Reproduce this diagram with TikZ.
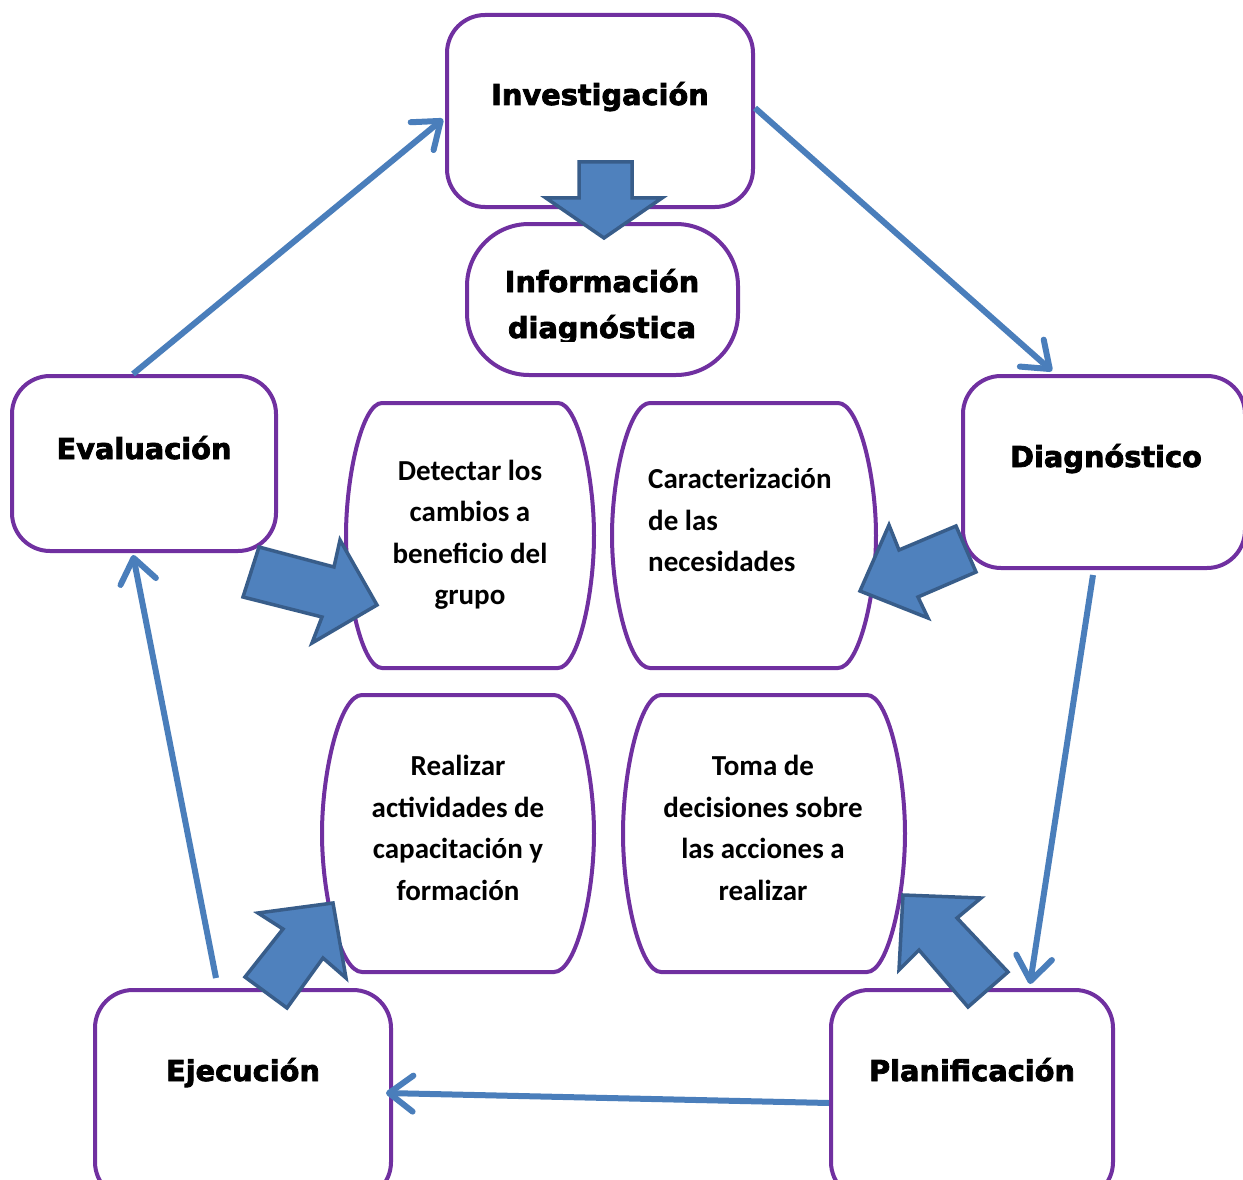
\documentclass[tikz,border=0pt]{standalone}
\usepackage{fontspec}
\setmainfont{DejaVu Sans}[BoldFeatures={FakeBold=2.6}]
\newfontfamily\calfont{Carlito}
\usetikzlibrary{arrows.meta,calc}
\definecolor{pur}{HTML}{7030A0}
\definecolor{bfill}{HTML}{4F81BD}
\definecolor{bline}{HTML}{385D8A}
\definecolor{connc}{HTML}{4A7EBB}
\tikzset{
 mainbox/.style={draw=pur, line width=4pt, rounded corners=38pt, fill=white, inner sep=0pt},
 ibox/.style={draw=pur, line width=4pt, fill=white},
 lbl/.style={font=\bfseries\fontsize{28.8}{34}\selectfont, inner sep=0pt, anchor=base},
 itxt/.style={font=\calfont\bfseries\fontsize{29}{41.5}\selectfont, align=center, inner sep=0pt},
 connector/.style={draw=connc, line width=6pt, -{Straight Barb[length=24pt,width=36pt,round]}},
 blockarrow/.style={fill=bfill, draw=bline, line width=3.5pt},
}
\newcommand\bulgebox[5]{%
\draw[ibox] ({#1+#5},#2) -- ({#3-#5},#2)
 .. controls ({#3-0.448*#5},#2) and (#3,{#2+0.552*(#4-#2)/2}) .. (#3,{(#2+#4)/2})
 .. controls (#3,{#4-0.552*(#4-#2)/2}) and ({#3-0.448*#5},#4) .. ({#3-#5},#4)
 -- ({#1+#5},#4)
 .. controls ({#1+0.448*#5},#4) and (#1,{#4-0.552*(#4-#2)/2}) .. (#1,{(#2+#4)/2})
 .. controls (#1,{#2+0.552*(#4-#2)/2}) and ({#1+0.448*#5},#2) .. cycle;}
\begin{document}
\begin{tikzpicture}[x=1pt,y=-1pt]
\useasboundingbox (0,0) rectangle (1243,1180);
\clip (0,0) rectangle (1243,1180);
\fill[white] (0,0) rectangle (1243,1180);
% main boxes
\node[mainbox, minimum width=306pt, minimum height=192pt] (inv) at (600,111) {};
\node[mainbox, rounded corners=62pt, minimum width=271pt, minimum height=151pt] (info) at (602.5,299.5) {};
\node[mainbox, minimum width=282pt, minimum height=192pt] (dia) at (1104,472) {};
\node[mainbox, minimum width=264pt, minimum height=175pt] (eva) at (144,463.5) {};
\node[mainbox, minimum width=296pt, minimum height=210pt] (eje) at (243,1095) {};
\node[mainbox, minimum width=282pt, minimum height=210pt] (pla) at (972,1095) {};
% inner boxes
\bulgebox{346}{403}{594}{668}{36}
\bulgebox{612}{403}{876}{668}{38}
\bulgebox{322}{695}{594}{972}{40}
\bulgebox{623}{695}{905}{972}{38}
% labels
\node[lbl] (tinv) at (600,105) {Investigación};
\node[lbl] (tdia) at (1106,467) {Diagnóstico};
\node[lbl] (teva) at (144,459) {Evaluación};
\node[lbl] (teje) at (243,1081) {Ejecución};
\node[lbl] (tpla) at (972,1081) {Planificación};
\begin{scope}
\clip (467,224) rectangle (738,341);
\node[lbl] (tinfa) at (602,292) {Información};
\node[lbl] (tinfb) at (602,338) {diagnóstica};
\end{scope}
\node[itxt] (det) at (470,535) {Detectar los\\cambios a\\beneficio del\\grupo};
\node[itxt, align=left, anchor=west] (car) at (648,520) {Caracterización\\de las\\necesidades};
\node[itxt] (rea) at (458,828) {Realizar\\actividades de\\capacitación y\\formación};
\node[itxt] (tom) at (763,828) {Toma de\\decisiones sobre\\las acciones a\\realizar};
% connectors
\draw[connector] ([xshift=-11pt]eva.north) -- ([xshift=-2pt,yshift=-8pt]inv.west);
\draw[connector] ([yshift=3pt]inv.east) -- ([xshift=-52pt,yshift=3pt]dia.north);
\draw[connector] ([xshift=-11pt,yshift=-5pt]dia.south) -- ([xshift=58pt,yshift=4pt]pla.north);
\draw[connector] ([yshift=-8pt]pla.west) -- ([xshift=-7pt,yshift=2pt]eje.east);
\draw[connector] ([xshift=-27pt,yshift=10pt]eje.north) -- ([xshift=-11pt,yshift=-2pt]eva.south);
% block arrows
\draw[blockarrow] (259,547) -- (334,567) -- (340,540) -- (377,605) -- (312,643) -- (322,617) -- (243,597) -- cycle;
\draw[blockarrow] (860,591) -- (889,525) -- (899,550) -- (956,526) -- (976,572) -- (918,597) -- (928,618) -- cycle;
\draw[blockarrow] (333,903) -- (346,978) -- (323,958) -- (287,1008) -- (245,977) -- (283,929) -- (258,913) -- cycle;
\draw[blockarrow] (903,895) -- (981,898) -- (957,918) -- (1008,972) -- (968,1007) -- (919,950) -- (899,970) -- cycle;
\draw[blockarrow] (579,162) -- (632,162) -- (632,198) -- (662,198) -- (604,238) -- (546,198) -- (579,198) -- cycle;
\end{tikzpicture}
\end{document}
